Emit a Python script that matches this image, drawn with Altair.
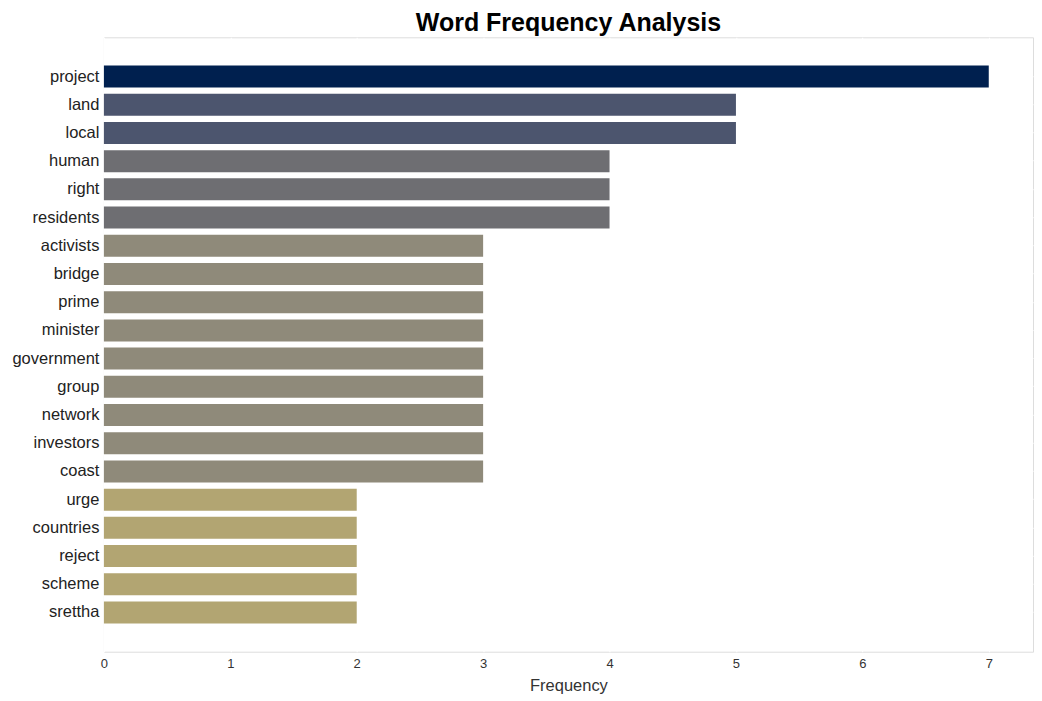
import altair as alt
import pandas as pd

words = ["project", "land", "local", "human", "right", "residents", "activists",
         "bridge", "prime", "minister", "government", "group", "network",
         "investors", "coast", "urge", "countries", "reject", "scheme", "srettha"]
freqs = [7, 5, 5, 4, 4, 4, 3, 3, 3, 3, 3, 3, 3, 3, 3, 2, 2, 2, 2, 2]

levels = [7, 5, 4, 3, 2]
level_colors = ["#00204f", "#4c556e", "#6e6e72", "#8f8a7a", "#b2a572"]

df = pd.DataFrame({"word": words, "freq": freqs})

chart = alt.Chart(df).mark_bar().encode(
    x=alt.X("freq:Q", title="Frequency",
            scale=alt.Scale(domain=[0, 7.35], nice=False, zero=True),
            axis=alt.Axis(values=[0, 1, 2, 3, 4, 5, 6, 7], format="d",
                          grid=True, gridColor="white", gridWidth=1.2,
                          domain=False, ticks=False, labelPadding=6,
                          labelFlush=False,
                          labelFontSize=13, labelColor="#333333",
                          titleFontSize=16.5, titleFontWeight="normal",
                          titleColor="#333333", titlePadding=7)),
    y=alt.Y("word:N", sort=words, title=None,
            scale=alt.Scale(paddingInner=0.22, paddingOuter=1.0),
            axis=alt.Axis(grid=True, gridColor="white", gridWidth=1.2,
                          domain=False, ticks=False, labelPadding=5,
                          labelFontSize=16.5, labelColor="#222222")),
    color=alt.Color("freq:O", scale=alt.Scale(domain=levels, range=level_colors),
                    legend=None),
).properties(
    width=930,
    height=615,
    title=alt.Title("Word Frequency Analysis", fontSize=25, fontWeight="bold",
                    color="#000000", anchor="middle", offset=1),
    padding={"left": 3, "top": 3, "right": 1, "bottom": 5},
).configure_view(
    fill="#f7f7f7", stroke="transparent", strokeWidth=0
).configure(
    font="Liberation Sans"
)

chart.save("out.html", embed_options={"renderer": "svg", "actions": False})
